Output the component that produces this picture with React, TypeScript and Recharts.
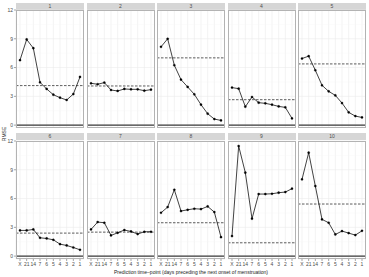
import React from "react";
import { LineChart, Line, XAxis, YAxis, CartesianGrid, ReferenceLine } from "recharts";

const categories = ["X", "21", "14", "7", "6", "5", "4", "3", "2", "1"];
const panelNames = ["1", "2", "3", "4", "5", "6", "7", "8", "9", "10"];

const rmse1 = [6.77, 8.93, 8.02, 4.46, 3.77, 3.17, 2.86, 2.62, 3.24, 5.02];
const rmse2 = [4.36, 4.26, 4.43, 3.66, 3.56, 3.77, 3.73, 3.73, 3.59, 3.7];
const rmse3 = [8.16, 9.0, 6.24, 4.74, 3.98, 3.21, 2.13, 1.19, 0.63, 0.49];
const rmse4 = [3.91, 3.8, 1.92, 2.93, 2.34, 2.27, 2.13, 1.95, 1.85, 0.7];
const rmse5 = [6.94, 7.19, 5.72, 4.15, 3.52, 3.1, 2.3, 1.33, 0.94, 0.8];
const rmse6 = [2.68, 2.68, 2.78, 1.91, 1.84, 1.7, 1.25, 1.11, 0.9, 0.66];
const rmse7 = [2.78, 3.55, 3.48, 2.16, 2.43, 2.72, 2.57, 2.3, 2.54, 2.54];
const rmse8 = [4.52, 5.11, 6.92, 4.7, 4.83, 4.94, 4.9, 5.18, 4.59, 1.98];
const rmse9 = [2.09, 11.48, 8.7, 3.9, 6.47, 6.47, 6.5, 6.61, 6.68, 7.03];
const rmse10 = [8.0, 10.78, 7.3, 3.83, 3.48, 2.26, 2.61, 2.4, 2.19, 2.64];

const seriesList = [rmse1, rmse2, rmse3, rmse4, rmse5, rmse6, rmse7, rmse8, rmse9, rmse10];
const baselines = [4.12, 4.08, 7.01, 2.65, 6.38, 2.4, 2.5, 3.48, 1.39, 5.43];

const yTicks = [0, 3, 6, 9, 12];
const yMinorTicks = [1.5, 4.5, 7.5, 10.5];

const FONT = "'Liberation Sans', Arial, sans-serif";
const PANEL_W = 68;
const PLOT_H = 118;
const panelLefts = [16, 86.5, 157, 227.5, 298];
const stripTops = [3, 133];
const plotTops = [10, 141];
const Y_AXIS_W = 16;
const X_AXIS_H = 14;
const PAD_T = 4;

function XTick(props: any) {
  const { x, y, payload } = props;
  return (
    <text x={x} y={y + 4} textAnchor="middle" fontSize={5} fill="#4d4d4d" stroke="none" fontFamily={FONT}>
      {payload.value}
    </text>
  );
}

function YTick(props: any) {
  const { x, y, payload } = props;
  return (
    <text x={x} y={y + 1.8} textAnchor="end" fontSize={5} fill="#4d4d4d" stroke="none" fontFamily={FONT}>
      {payload.value}
    </text>
  );
}

function Panel({ idx }: { idx: number }) {
  const row = Math.floor(idx / 5);
  const col = idx % 5;
  const left = panelLefts[col];
  const showY = col === 0;
  const showX = row === 1;
  const data = categories.map((c, i) => ({ t: c, v: seriesList[idx][i] }));
  const chartW = PANEL_W + (showY ? Y_AXIS_W : 0);
  const chartH = PLOT_H + PAD_T + (showX ? X_AXIS_H : 0);
  return (
    <>
      <div
        style={{
          position: "absolute",
          left,
          top: stripTops[row],
          width: PANEL_W,
          height: 7,
          background: "#d6d6d6",
          color: "#4d4d4d",
          fontSize: 5,
          lineHeight: "7px",
          textAlign: "center",
          fontFamily: FONT,
        }}
      >
        {panelNames[idx]}
      </div>
      <div style={{ position: "absolute", left: left - (showY ? Y_AXIS_W : 0), top: plotTops[row] - PAD_T }}>
        <LineChart width={chartW} height={chartH} data={data} margin={{ top: PAD_T, right: 0, bottom: 0, left: 0 }}>
          <CartesianGrid stroke="#ebebeb" strokeWidth={0.6} />
          <XAxis
            dataKey="t"
            hide={!showX}
            height={X_AXIS_H}
            interval={0}
            padding={{ left: 4, right: 4 }}
            axisLine={false}
            stroke="#4d4d4d"
            tickSize={2}
            tickMargin={1}
            tickLine={{ stroke: "#4d4d4d", strokeWidth: 0.5 }}
            tick={<XTick />}
          />
          <YAxis
            type="number"
            domain={[-0.3, 12]}
            allowDataOverflow
            ticks={yTicks}
            interval={0}
            hide={!showY}
            width={Y_AXIS_W}
            axisLine={false}
            stroke="#4d4d4d"
            tickSize={2}
            tickMargin={1}
            tickLine={{ stroke: "#4d4d4d", strokeWidth: 0.5 }}
            tick={<YTick />}
          />
          {yMinorTicks.map((m) => (
            <ReferenceLine key={m} y={m} stroke="#f4f4f4" strokeWidth={0.4} />
          ))}
          <ReferenceLine y={0} stroke="#3a3a3a" strokeWidth={1.1} />
          <ReferenceLine y={baselines[idx]} stroke="#333333" strokeWidth={0.8} strokeDasharray="2.5 1.5" />
          <Line
            dataKey="v"
            type="linear"
            stroke="#111111"
            strokeWidth={0.8}
            dot={{ r: 1.1, fill: "#000000", stroke: "#000000", strokeWidth: 0.3 }}
            isAnimationActive={false}
          />
        </LineChart>
      </div>
      <div
        style={{
          position: "absolute",
          left,
          top: plotTops[row],
          width: PANEL_W,
          height: PLOT_H,
          border: "1px solid #b3b3b3",
          boxSizing: "border-box",
          pointerEvents: "none",
        }}
      />
    </>
  );
}

export default function App() {
  return (
    <div
      style={{
        position: "absolute",
        left: 0,
        top: 0,
        width: 369,
        height: 277,
        background: "#ffffff",
        fontFamily: FONT,
        overflow: "hidden",
      }}
    >
      {panelNames.map((_, i) => (
        <Panel key={i} idx={i} />
      ))}
      <div
        style={{
          position: "absolute",
          left: 4 - 20,
          top: 134 - 3,
          width: 40,
          height: 6,
          fontSize: 5,
          lineHeight: "6px",
          color: "#222",
          textAlign: "center",
          transform: "rotate(-90deg)",
        }}
      >
        RMSE
      </div>
      <div
        style={{
          position: "absolute",
          left: 16,
          top: 269,
          width: 350,
          height: 6,
          fontSize: 5,
          lineHeight: "6px",
          color: "#222",
          textAlign: "center",
        }}
      >
        Prediction time–point (days preceding the next onset of menstruation)
      </div>
    </div>
  );
}
